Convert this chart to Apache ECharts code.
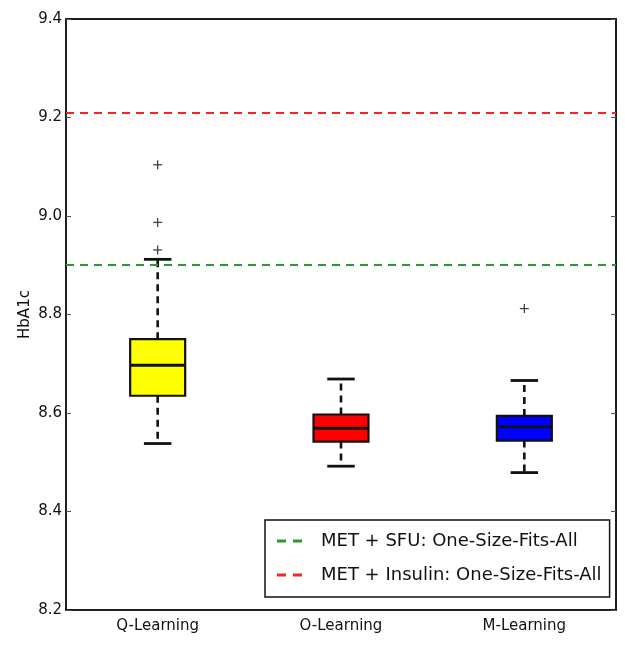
<!DOCTYPE html>
<html>
<head>
<meta charset="utf-8">
<script src="https://cdn.jsdelivr.net/npm/echarts@6/dist/echarts.min.js"></script>
<style>
  html, body { margin: 0; padding: 0; background: #fff; }
  #chart { width: 625px; height: 646px; }
</style>
</head>
<body>
<div id="chart"></div>
<script>
// box statistics per method
var categories = ['Q-Learning', 'O-Learning', 'M-Learning']
var lowerWhisker = [8.538, 8.492, 8.479]
var q1 = [8.635, 8.542, 8.544]
var median = [8.697, 8.569, 8.572]
var q3 = [8.75, 8.597, 8.594]
var upperWhisker = [8.912, 8.669, 8.666]
var boxColors = ['#ffff00', '#ff0000', '#0000ff']

// outliers: [category index, value]
var outliers = [[0, 9.104], [0, 8.987], [0, 8.931], [2, 8.812]]

// one-size-fits-all reference levels
var sfuLevel = 8.90
var insulinLevel = 9.21

var yTicks = [8.2, 8.4, 8.6, 8.8, 9.0, 9.2, 9.4]

var boxData = []
for (var i = 0; i < categories.length; i++) {
  boxData.push([i, lowerWhisker[i], q1[i], median[i], q3[i], upperWhisker[i]])
}

function renderBox(params, api) {
  var idx = api.value(0)
  var low = api.coord([idx, api.value(1)])
  var b1 = api.coord([idx, api.value(2)])
  var med = api.coord([idx, api.value(3)])
  var b3 = api.coord([idx, api.value(4)])
  var high = api.coord([idx, api.value(5)])
  var bw = api.size([1, 0])[0] * 0.3
  var cw = bw / 2
  var x = low[0]
  var dash = { stroke: '#111', lineWidth: 2.6, lineDash: [7, 5] }
  var solid = { stroke: '#111', lineWidth: 2.8 }
  return {
    type: 'group',
    children: [
      { type: 'line', shape: { x1: x, y1: b3[1], x2: x, y2: high[1] }, style: dash },
      { type: 'line', shape: { x1: x, y1: b1[1], x2: x, y2: low[1] }, style: dash },
      { type: 'line', shape: { x1: x - cw / 2, y1: high[1], x2: x + cw / 2, y2: high[1] }, style: solid },
      { type: 'line', shape: { x1: x - cw / 2, y1: low[1], x2: x + cw / 2, y2: low[1] }, style: solid },
      {
        type: 'rect',
        shape: { x: x - bw / 2, y: b3[1], width: bw, height: b1[1] - b3[1] },
        style: { fill: boxColors[idx], stroke: '#111', lineWidth: 2.2 }
      },
      { type: 'line', shape: { x1: x - bw / 2, y1: med[1], x2: x + bw / 2, y2: med[1] }, style: solid }
    ]
  }
}

function renderPlus(params, api) {
  var p = api.coord([api.value(0), api.value(1)])
  var s = 4.5
  var st = { stroke: '#444', lineWidth: 1.3 }
  return {
    type: 'group',
    children: [
      { type: 'line', shape: { x1: p[0] - s, y1: p[1], x2: p[0] + s, y2: p[1] }, style: st },
      { type: 'line', shape: { x1: p[0], y1: p[1] - s, x2: p[0], y2: p[1] + s }, style: st }
    ]
  }
}

var dashIcon = 'path://M0,0h9v3h-9z M16,0h9v3h-9z'
var font = 'DejaVu Sans'

var myChart = echarts.init(document.getElementById('chart'))
var option = {
  animation: false,
  textStyle: { fontFamily: font },
  grid: { left: 66, right: 9, top: 19, bottom: 36, show: true, borderColor: '#111', borderWidth: 1.5 },
  legend: {
    orient: 'vertical',
    left: 265,
    top: 520,
    padding: [12, 8, 13, 12],
    backgroundColor: '#fff',
    borderColor: '#111',
    borderWidth: 1.5,
    borderRadius: 0,
    itemWidth: 25,
    itemHeight: 3,
    itemGap: 16,
    textStyle: { fontSize: 18, color: '#111', fontFamily: font, padding: [0, 0, 0, 14] },
    data: [
      { name: 'MET + SFU: One-Size-Fits-All', icon: dashIcon },
      { name: 'MET + Insulin: One-Size-Fits-All', icon: dashIcon }
    ]
  },
  xAxis: [{
    type: 'category',
    data: categories,
    axisLine: { lineStyle: { color: '#111', width: 1.5 } },
    axisTick: { inside: true, alignWithLabel: true, length: 5, lineStyle: { color: '#555' } },
    axisLabel: { fontSize: 15, color: '#111', fontFamily: font, margin: 9 },
    splitLine: { show: false }
  }, {
    type: 'category',
    position: 'top',
    data: categories,
    axisLine: { lineStyle: { color: '#111', width: 1.5 } },
    axisTick: { inside: true, alignWithLabel: true, length: 5, lineStyle: { color: '#555' } },
    axisLabel: { show: false }
  }],
  yAxis: [{
    type: 'value',
    min: yTicks[0],
    max: yTicks[yTicks.length - 1],
    interval: 0.2,
    name: 'HbA1c',
    nameLocation: 'middle',
    nameGap: 33,
    nameMoveOverlap: false,
    nameTextStyle: { fontSize: 15, color: '#111', fontFamily: font },
    axisLine: { show: true, lineStyle: { color: '#111', width: 1.5 } },
    axisTick: { show: true, inside: true, length: 5, lineStyle: { color: '#555' } },
    axisLabel: { fontSize: 15, color: '#111', fontFamily: font, margin: 4, formatter: function(v) { return v.toFixed(1) } },
    splitLine: { show: false }
  }, {
    type: 'value',
    position: 'right',
    min: yTicks[0],
    max: yTicks[yTicks.length - 1],
    interval: 0.2,
    axisLine: { show: true, lineStyle: { color: '#111', width: 1.5 } },
    axisTick: { show: true, inside: true, length: 5, lineStyle: { color: '#555' } },
    axisLabel: { show: false },
    splitLine: { show: false }
  }],
  series: [{
    name: 'MET + SFU: One-Size-Fits-All',
    type: 'line',
    data: [],
    itemStyle: { color: '#2a9a2a' },
    markLine: {
      silent: true,
      symbol: 'none',
      label: { show: false },
      lineStyle: { color: '#2a9a2a', type: [8, 6], width: 2 },
      data: [{ yAxis: sfuLevel }]
    }
  }, {
    name: 'MET + Insulin: One-Size-Fits-All',
    type: 'line',
    data: [],
    itemStyle: { color: '#ff2020' },
    markLine: {
      silent: true,
      symbol: 'none',
      label: { show: false },
      lineStyle: { color: '#ff2020', type: [8, 6], width: 2 },
      data: [{ yAxis: insulinLevel }]
    }
  }, {
    type: 'custom',
    renderItem: renderBox,
    encode: { x: 0, y: [1, 2, 3, 4, 5] },
    data: boxData,
    z: 3
  }, {
    type: 'custom',
    renderItem: renderPlus,
    encode: { x: 0, y: 1 },
    data: outliers,
    z: 3
  }]
}
myChart.setOption(option, true)
window.onresize = () => {
  myChart.resize()
}
</script>
</body>
</html>
